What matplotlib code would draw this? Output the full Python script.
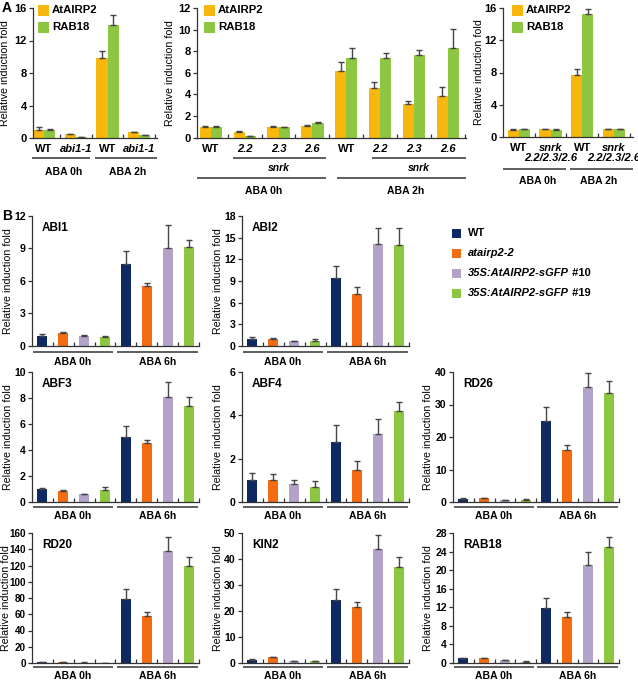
import numpy as np
import matplotlib
matplotlib.use('Agg')
import matplotlib.pyplot as plt
from matplotlib.transforms import blended_transform_factory
from matplotlib.patches import Rectangle

plt.rcParams['font.family'] = ['Liberation Sans', 'DejaVu Sans']
plt.rcParams['font.weight'] = 'bold'

W, H = 638, 681

# ---------------- Panel A data ----------------
series_a = ['AtAIRP2', 'RAB18']

abi_labels = ['WT', 'abi1-1', 'WT', 'abi1-1']
abi_airp2 = [1.0, 0.45, 9.9, 0.7]
abi_airp2_err = [0.3, 0.05, 0.8, 0.1]
abi_rab18 = [1.0, 0.15, 13.9, 0.35]
abi_rab18_err = [0.05, 0.0, 1.2, 0.05]

snrk_labels = ['WT', '2.2', '2.3', '2.6', 'WT', '2.2', '2.3', '2.6']
snrk_airp2 = [1.0, 0.55, 0.95, 1.1, 6.2, 4.6, 3.15, 3.8]
snrk_airp2_err = [0.08, 0.08, 0.1, 0.1, 0.8, 0.5, 0.25, 0.9]
snrk_rab18 = [1.0, 0.15, 0.95, 1.3, 7.35, 7.35, 7.6, 8.3]
snrk_rab18_err = [0.08, 0.02, 0.05, 0.1, 0.95, 0.5, 0.55, 1.8]

triple_labels = ['WT', 'snrk\n2.2/2.3/2.6', 'WT', 'snrk\n2.2/2.3/2.6']
triple_airp2 = [0.9, 0.95, 7.7, 0.95]
triple_airp2_err = [0.05, 0.1, 0.7, 0.05]
triple_rab18 = [0.95, 0.9, 15.3, 0.95]
triple_rab18_err = [0.05, 0.05, 0.6, 0.05]

# ---------------- Panel B data ----------------
lines_b = ['WT', 'atairp2-2', '35S:AtAIRP2-sGFP #10', '35S:AtAIRP2-sGFP #19']
treat_b = ['ABA 0h', 'ABA 6h']

abi1_vals = [0.95, 1.2, 0.92, 0.8, 7.57, 5.5, 9.08, 9.1]
abi1_err = [0.13, 0.1, 0.13, 0.1, 1.23, 0.35, 2.12, 0.7]
abi2_vals = [0.92, 0.92, 0.65, 0.75, 9.46, 7.15, 14.1, 14.0]
abi2_err = [0.28, 0.23, 0.05, 0.22, 1.64, 0.95, 2.2, 2.3]
abf3_vals = [0.99, 0.84, 0.58, 0.89, 4.97, 4.54, 8.07, 7.36]
abf3_err = [0.1, 0.1, 0.05, 0.28, 0.89, 0.21, 1.13, 0.69]
abf4_vals = [1.02, 1.02, 0.85, 0.71, 2.75, 1.47, 3.13, 4.18]
abf4_err = [0.33, 0.27, 0.17, 0.25, 0.79, 0.4, 0.72, 0.42]
rd26_vals = [1.0, 1.1, 0.5, 0.7, 24.9, 16.1, 35.3, 33.6]
rd26_err = [0.1, 0.2, 0.1, 0.1, 4.3, 1.4, 4.5, 3.5]
rd20_vals = [0.8, 1.2, 0.5, 0.3, 78.5, 58.2, 137.5, 120.0]
rd20_err = [0.3, 0.3, 0.2, 0.1, 13.0, 4.8, 17.5, 10.0]
kin2_vals = [1.2, 2.3, 0.75, 0.6, 24.2, 21.5, 43.8, 37.1]
kin2_err = [0.4, 0.2, 0.1, 0.1, 4.4, 2.0, 5.6, 3.5]
rab18_vals = [1.0, 1.07, 0.7, 0.3, 11.9, 10.0, 21.07, 25.07]
rab18_err = [0.1, 0.1, 0.05, 0.03, 2.1, 1.0, 2.8, 2.0]

YELLOW = '#F8B70C'
GREEN = '#8DC641'
NAVY = '#0F2A63'
ORANGE = '#F36C12'
LAVENDER = '#B3A3C9'
SPINE = '#333333'
ERRC = '#454545'

fig = plt.figure(figsize=(W / 100, H / 100), dpi=100)


def add_ax(l, t, r, b):
    return fig.add_axes([l / W, 1 - b / H, (r - l) / W, (b - t) / H])


def style(ax, ymax, ystep, ylab_x, ysize=8):
    ax.spines[['top', 'right']].set_visible(False)
    for s in ('left', 'bottom'):
        ax.spines[s].set_linewidth(0.9)
        ax.spines[s].set_color(SPINE)
    ax.set_ylim(0, ymax)
    ax.set_yticks(np.arange(0, ymax + ystep / 2, ystep))
    ax.tick_params(axis='y', direction='out', length=3, width=0.9,
                   labelsize=ysize, pad=1.5, color=SPINE)
    ax.tick_params(axis='x', which='major', length=0, labelsize=8, pad=4.5)
    ax.tick_params(axis='x', which='minor', direction='in', length=3,
                   width=0.9, color=SPINE)
    ax.set_ylabel('Relative induction fold', fontsize=7.7, fontweight='normal')
    ax.yaxis.set_label_coords(ylab_x, 0.5)


def group_line(ax, x0, x1, yf):
    tr = blended_transform_factory(ax.transData, ax.transAxes)
    ax.plot([x0, x1], [yf, yf], transform=tr, clip_on=False, color=SPINE,
            lw=1.1, solid_capstyle='butt')


def group_text(ax, x, yf, s, italic=False):
    tr = blended_transform_factory(ax.transData, ax.transAxes)
    ax.text(x, yf, s, transform=tr, ha='center', va='center', fontsize=7.5,
            fontweight='bold', fontstyle='italic' if italic else 'normal')


def pair_bars(ax, a, aerr, r, rerr, off, w, cap):
    x = np.arange(len(a))
    z = np.zeros(len(a))
    ax.bar(x - off, a, w, color=YELLOW)
    ax.bar(x + off, r, w, color=GREEN)
    ax.errorbar(x - off, a, yerr=[z, aerr], fmt='none', ecolor=ERRC,
                elinewidth=1, capsize=cap, capthick=1)
    ax.errorbar(x + off, r, yerr=[z, rerr], fmt='none', ecolor=ERRC,
                elinewidth=1, capsize=cap, capthick=1)


def set_xlabels(ax, labels, italic_idx):
    ax.set_xticks(np.arange(len(labels)))
    ax.set_xticklabels(labels, linespacing=1.0)
    for i, t in enumerate(ax.get_xticklabels()):
        if i in italic_idx:
            t.set_fontstyle('italic')


# ---------------- A1 ----------------
a1 = add_ax(33, 8, 157, 138)
pair_bars(a1, abi_airp2, abi_airp2_err, abi_rab18, abi_rab18_err, 0.175, 0.35, 2)
style(a1, 16, 4, -0.185)
set_xlabels(a1, abi_labels, [1, 3])
a1.set_xticks([0.5, 1.5, 2.5, 3.5], minor=True)
group_line(a1, -0.38, 1.45, -0.154)
group_line(a1, 1.6, 3.56, -0.154)
group_text(a1, 0.62, -0.258, 'ABA 0h')
group_text(a1, 2.62, -0.258, 'ABA 2h')
a1.set_xlim(-0.35, 3.56)

# ---------------- A2 ----------------
a2 = add_ax(197, 8, 466, 137.5)
pair_bars(a2, snrk_airp2, snrk_airp2_err, snrk_rab18, snrk_rab18_err, 0.165, 0.33, 2)
style(a2, 12, 2, -0.082)
set_xlabels(a2, snrk_labels, [1, 2, 3, 5, 6, 7])
a2.set_xticks(np.arange(0.5, 8, 1.0), minor=True)
group_line(a2, 0.65, 3.4, -0.158)
group_line(a2, 4.76, 7.54, -0.158)
group_text(a2, 2.0, -0.235, 'snrk', italic=True)
group_text(a2, 6.15, -0.235, 'snrk', italic=True)
group_line(a2, -0.41, 3.4, -0.31)
group_line(a2, 3.73, 7.54, -0.31)
group_text(a2, 1.55, -0.41, 'ABA 0h')
group_text(a2, 5.75, -0.41, 'ABA 2h')
a2.set_xlim(-0.41, 7.54)

# ---------------- A3 ----------------
a3 = add_ax(503, 8, 633, 137)
pair_bars(a3, triple_airp2, triple_airp2_err, triple_rab18, triple_rab18_err, 0.175, 0.35, 2)
style(a3, 16, 4, -0.146)
set_xlabels(a3, triple_labels, [1, 3])
a3.set_xticks([0.5, 1.5, 2.5, 3.5], minor=True)
group_line(a3, -0.5, 1.48, -0.248)
group_line(a3, 1.6, 3.6, -0.248)
group_text(a3, 0.6, -0.34, 'ABA 0h')
group_text(a3, 2.52, -0.34, 'ABA 2h')
a3.set_xlim(-0.5, 3.6)

# ---------------- Panel B ----------------
rows = [(216, 346), (372, 502), (533, 663)]
row_line = [-0.046, -0.036, -0.03]
row_text = [-0.125, -0.108, -0.098]
cols = [(32, 199), (242, 409), (453, 619)]
genes = [
    ('ABI1', abi1_vals, abi1_err, 12, 3, 0, 0),
    ('ABI2', abi2_vals, abi2_err, 18, 3, 0, 1),
    ('ABF3', abf3_vals, abf3_err, 10, 2, 1, 0),
    ('ABF4', abf4_vals, abf4_err, 6, 2, 1, 1),
    ('RD26', rd26_vals, rd26_err, 40, 10, 1, 2),
    ('RD20', rd20_vals, rd20_err, 160, 20, 2, 0),
    ('KIN2', kin2_vals, kin2_err, 50, 10, 2, 1),
    ('RAB18', rab18_vals, rab18_err, 28, 4, 2, 2),
]
bcolors = [NAVY, ORANGE, LAVENDER, GREEN] * 2
for name, vals, err, ymax, ystep, r, c in genes:
    t, b = rows[r]
    l, rr = cols[c]
    ax = add_ax(l, t, rr, b)
    x = np.arange(len(vals))
    ax.bar(x, vals, 0.48, color=bcolors)
    ax.errorbar(x, vals, yerr=[np.zeros(len(vals)), err], fmt='none',
                ecolor=ERRC, elinewidth=1, capsize=2.5, capthick=1)
    if name == 'RD20':
        ylx, ysz = -0.128, 7.1
    else:
        ylx, ysz = (-0.12 if c == 2 else -0.114), 7.6
    style(ax, ymax, ystep, ylx, ysize=ysz)
    ax.set_xticks([])
    ax.set_xticks(np.arange(0.5, 8, 1.0), minor=True)
    ax.text(0.06, 0.91, name, transform=ax.transAxes, fontsize=8.5,
            fontweight='bold', va='center', ha='left')
    group_line(ax, -0.45, 3.38, row_line[r])
    group_line(ax, 3.57, 7.45, row_line[r])
    group_text(ax, 1.45, row_text[r], treat_b[0])
    group_text(ax, 5.5, row_text[r], treat_b[1])
    ax.set_xlim(-0.5, 7.5)

# ---------------- overlay (legends, panel letters) ----------------
ov = fig.add_axes([0, 0, 1, 1])
ov.set_xlim(0, W)
ov.set_ylim(H, 0)
ov.axis('off')
ov.patch.set_alpha(0)

ov.text(2, 8, 'A', fontsize=10, fontweight='bold', va='center', ha='left')
ov.text(2, 216, 'B', fontsize=10, fontweight='bold', va='center', ha='left')

for sx, tx in [(38, 52), (204, 218), (512, 526)]:
    for (name, col), cy in zip(zip(series_a, [YELLOW, GREEN]), [10, 27]):
        ov.add_patch(Rectangle((sx, cy - 5.5), 11, 11, color=col, lw=0))
        ov.text(tx, cy, name, fontsize=8.2, fontweight='bold', va='center', ha='left')

bl_cols = [NAVY, ORANGE, LAVENDER, GREEN]
for i, (name, col) in enumerate(zip(lines_b, bl_cols)):
    cy = 233 + 20 * i
    ov.add_patch(Rectangle((452, cy - 4.5), 9, 9, color=col, lw=0))
    if i == 0:
        ov.text(468, cy, name, fontsize=8, fontweight='bold', va='center', ha='left')
    elif i == 1:
        ov.text(468, cy, name, fontsize=8, fontweight='bold', fontstyle='italic',
                va='center', ha='left')
    else:
        main, tag = name.split(' ')
        t1 = ov.text(468, cy, main, fontsize=8, fontweight='bold', fontstyle='italic',
                     va='center', ha='left')
        ov.annotate(' ' + tag, xy=(1, 0.5), xycoords=t1, fontsize=8,
                    fontweight='bold', va='center', ha='left')

fig.savefig('out.png', dpi=100)
